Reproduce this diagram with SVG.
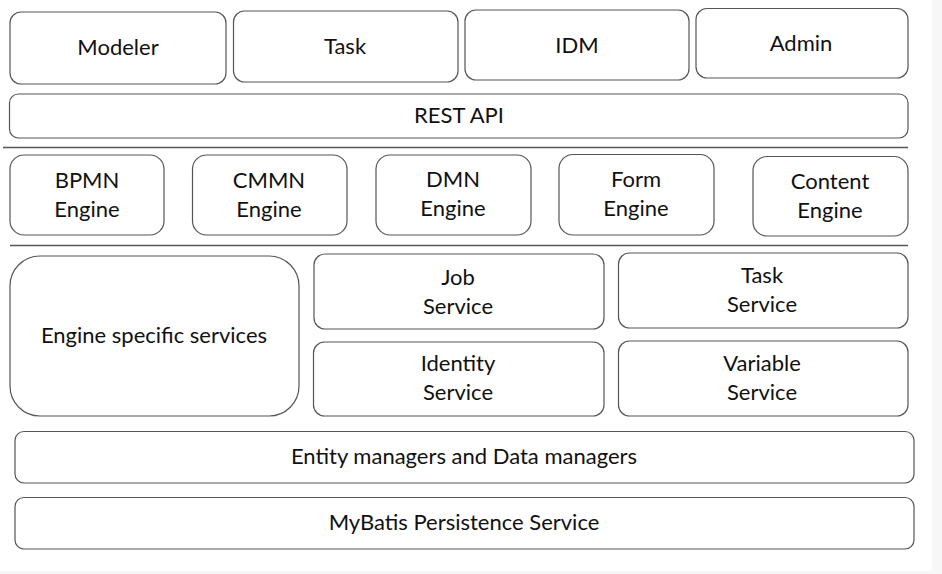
<svg xmlns="http://www.w3.org/2000/svg" width="942" height="574" viewBox="0 0 942 574">
<style>
.b{fill:#fff;stroke:#555;stroke-width:1.2}
.t{font-family:Lato,"Liberation Sans",sans-serif;font-size:22px;fill:#111;text-anchor:middle}
.sep{stroke:#555;stroke-width:1.3}
</style>
<rect x="0" y="0" width="942" height="574" fill="#f7f7f7"/>
<rect x="0" y="0" width="932" height="571" fill="#fff"/>
<g id="modeler"><rect class="b" x="10" y="12" width="216" height="72" rx="11"/><text class="t" x="118" y="55">Modeler</text></g>
<g id="task-app"><rect class="b" x="233.5" y="11" width="224.5" height="71" rx="11"/><text class="t" x="345" y="54">Task</text></g>
<g id="idm"><rect class="b" x="465" y="10" width="224" height="70" rx="11"/><text class="t" x="577" y="53">IDM</text></g>
<g id="admin"><rect class="b" x="696" y="8.5" width="212" height="69.5" rx="11"/><text class="t" x="801" y="51">Admin</text></g>
<g id="rest-api"><rect class="b" x="9.5" y="94" width="898.5" height="44" rx="9"/><text class="t" x="459" y="123">REST API</text></g>
<g id="connectors">
<line class="sep" x1="3" y1="147.5" x2="908" y2="147.5"/>
<line class="sep" x1="10" y1="245.5" x2="908" y2="245.5"/>
</g>
<g id="bpmn"><rect class="b" x="10" y="155" width="154" height="80" rx="14"/><text class="t" x="87" y="188">BPMN</text><text class="t" x="87" y="217">Engine</text></g>
<g id="cmmn"><rect class="b" x="192.5" y="155" width="154.5" height="80" rx="14"/><text class="t" x="269" y="188">CMMN</text><text class="t" x="269" y="217">Engine</text></g>
<g id="dmn"><rect class="b" x="376" y="155" width="155" height="80" rx="14"/><text class="t" x="453" y="187">DMN</text><text class="t" x="453" y="216">Engine</text></g>
<g id="form"><rect class="b" x="559" y="154.5" width="155" height="80.5" rx="14"/><text class="t" x="636" y="187">Form</text><text class="t" x="636" y="216">Engine</text></g>
<g id="content"><rect class="b" x="753" y="156.5" width="155" height="79.5" rx="14"/><text class="t" x="830" y="189">Content</text><text class="t" x="830" y="218">Engine</text></g>
<g id="engine-specific"><rect class="b" x="10" y="256" width="289" height="160" rx="30"/><text class="t" x="154" y="343">Engine specific services</text></g>
<g id="job-service"><rect class="b" x="314" y="254" width="290" height="75" rx="11"/><text class="t" x="458" y="285">Job</text><text class="t" x="458" y="314">Service</text></g>
<g id="task-service"><rect class="b" x="618.5" y="253" width="289.5" height="75" rx="11"/><text class="t" x="762" y="283">Task</text><text class="t" x="762" y="312">Service</text></g>
<g id="identity-service"><rect class="b" x="313.5" y="342" width="290.5" height="74" rx="11"/><text class="t" x="458" y="371">Identity</text><text class="t" x="458" y="400">Service</text></g>
<g id="variable-service"><rect class="b" x="618.5" y="341" width="289.5" height="75" rx="11"/><text class="t" x="762" y="371">Variable</text><text class="t" x="762" y="400">Service</text></g>
<g id="entity-managers"><rect class="b" x="15" y="431.5" width="899" height="51.5" rx="9"/><text class="t" x="464" y="464">Entity managers and Data managers</text></g>
<g id="mybatis"><rect class="b" x="15" y="497.5" width="899" height="51.5" rx="9"/><text class="t" x="464" y="530">MyBatis Persistence Service</text></g>
</svg>
